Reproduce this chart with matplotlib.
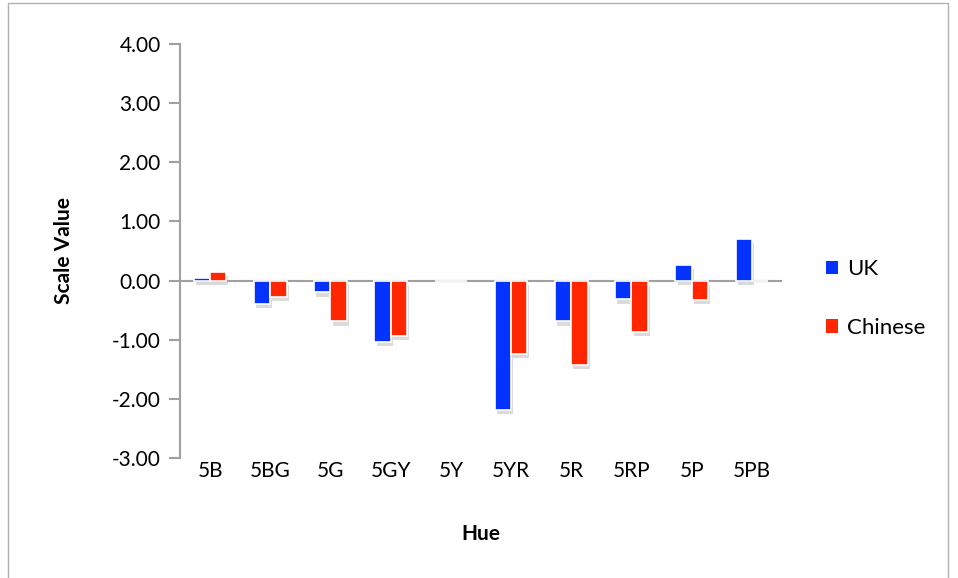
import numpy as np
import matplotlib
matplotlib.use("Agg")
import matplotlib.pyplot as plt
import matplotlib.patheffects as pe
from matplotlib.patches import Rectangle

# du lieu doc tu hinh
hues = ["5B", "5BG", "5G", "5GY", "5Y", "5YR", "5R", "5RP", "5P", "5PB"]
uk = [0.04, -0.40, -0.20, -1.04, 0.0, -2.18, -0.69, -0.32, 0.27, 0.70]
chinese = [0.15, -0.28, -0.69, -0.94, 0.0, -1.24, -1.43, -0.87, -0.33, 0.0]
yticks = [-3, -2, -1, 0, 1, 2, 3, 4]

plt.rcParams['font.family'] = ['Lato', 'DejaVu Sans']

fig = plt.figure(figsize=(9.58, 5.78), dpi=100)
ax = fig.add_axes([180/958, 1-458/578, (782-180)/958, (458-44)/578])

x = np.arange(len(hues))
w = 0.27
shadow = [pe.SimplePatchShadow(offset=(1.5, -3), shadow_rgbFace='#999999', alpha=0.35), pe.Normal()]
b1 = ax.bar(x - w/2, uk, w, color='#0433ff', edgecolor='white', linewidth=1.2, label='UK', zorder=3)
b2 = ax.bar(x + w/2, chinese, w, color='#ff2600', edgecolor='white', linewidth=1.2, label='Chinese', zorder=3)
for b in list(b1) + list(b2):
    if b.get_height() != 0:
        b.set_path_effects(shadow)

ax.set_xlim(-0.5, len(hues) - 0.5)
ax.set_ylim(-3, 4)
ax.set_yticks(yticks)
ax.set_yticklabels(["%.2f" % v for v in yticks], fontsize=15)
ax.set_xticks(x)
ax.set_xticklabels(hues, fontsize=15)

# truc x nam o 0, nhan o duoi
ax.spines['top'].set_visible(False)
ax.spines['right'].set_visible(False)
ax.spines['bottom'].set_visible(False)
ax.spines['left'].set_color('#a0a0a0')
ax.spines['left'].set_linewidth(1.5)
ax.axhline(0, color='#a0a0a0', linewidth=1.5, zorder=2)
ax.tick_params(axis='y', color='#a0a0a0', width=1.5, length=8, pad=6)
ax.tick_params(axis='x', length=0, pad=2)

ax.set_ylabel("Scale Value", fontsize=15, fontweight='bold', labelpad=27)
ax.set_xlabel("Hue", fontsize=15, fontweight='bold', labelpad=31)

leg = ax.legend(loc='center left', bbox_to_anchor=(1.04, 0.385), frameon=False, fontsize=16,
                handlelength=0.55, handleheight=0.55, handletextpad=0.4, labelspacing=1.75)
for h in leg.legend_handles:
    h.set_path_effects([])
    h.set_linewidth(0)

# khung vien ngoai
fig.patches.append(Rectangle((8/958, -0.01), 940/958, 1 - 3/578 + 0.01, transform=fig.transFigure,
                             fill=False, edgecolor='#b0b0b0', linewidth=1))

fig.savefig("out.png", dpi=100)
